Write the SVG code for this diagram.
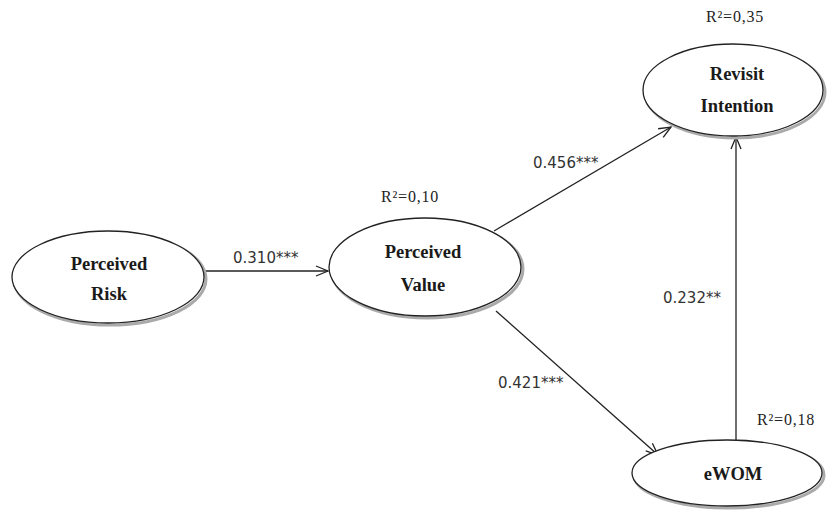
<svg xmlns="http://www.w3.org/2000/svg" width="827" height="517" viewBox="0 0 827 517">
<defs>
<marker id="arr" markerWidth="14" markerHeight="12" refX="13" refY="6" orient="auto" markerUnits="userSpaceOnUse">
<path d="M1,1 L13,6 L1,11" fill="none" stroke="#222" stroke-width="1.3"/>
</marker>
</defs>
<style>
.shadow{fill:none;stroke:#aaa;stroke-width:3}
.node{fill:#fff;stroke:#222;stroke-width:1.3}
.lbl{font-family:"Liberation Serif","Times New Roman",serif;font-weight:bold;font-size:18.5px;fill:#1a1a1a;text-anchor:middle}
.coef{font-family:"DejaVu Sans",Verdana,sans-serif;font-size:15px;fill:#333}
.r2{font-family:"Liberation Serif","Times New Roman",serif;font-size:16px;fill:#222;letter-spacing:0.8px}
.edge{fill:none;stroke:#222;stroke-width:1.3}
</style>
<rect width="827" height="517" fill="#fff"/>
<g id="connectors">
<line class="edge" x1="206" y1="271" x2="328" y2="271" marker-end="url(#arr)"/>
<line class="edge" x1="494" y1="231" x2="671" y2="127" marker-end="url(#arr)"/>
<line class="edge" x1="496" y1="311" x2="658" y2="455" marker-end="url(#arr)"/>
<line class="edge" x1="736" y1="441" x2="736" y2="137" marker-end="url(#arr)"/>
</g>
<g id="perceived-risk">
<ellipse class="shadow" cx="110" cy="279" rx="96" ry="46"/>
<ellipse class="node" cx="108" cy="277" rx="96" ry="46"/>
<text class="lbl" x="109" y="270">Perceived</text>
<text class="lbl" x="109" y="300">Risk</text>
</g>
<g id="perceived-value">
<ellipse class="shadow" cx="427" cy="269" rx="96" ry="49"/>
<ellipse class="node" cx="425" cy="267" rx="96" ry="49"/>
<text class="lbl" x="423" y="258">Perceived</text>
<text class="lbl" x="423" y="291">Value</text>
<text class="r2" x="381" y="202">R²=0,10</text>
</g>
<g id="revisit-intention">
<ellipse class="shadow" cx="735" cy="92" rx="90" ry="46"/>
<ellipse class="node" cx="733" cy="90" rx="90" ry="46"/>
<text class="lbl" x="737" y="80">Revisit</text>
<text class="lbl" x="737" y="112">Intention</text>
<text class="r2" x="706" y="22">R²=0,35</text>
</g>
<g id="ewom">
<ellipse class="shadow" cx="729" cy="475" rx="95" ry="33"/>
<ellipse class="node" cx="727" cy="473" rx="95" ry="33"/>
<text class="lbl" x="733" y="480">eWOM</text>
<text class="r2" x="757" y="425">R²=0,18</text>
</g>
<g id="labels">
<text class="coef" x="233" y="263">0.310***</text>
<text class="coef" x="533" y="168">0.456***</text>
<text class="coef" x="498" y="388">0.421***</text>
<text class="coef" x="663" y="303">0.232**</text>
</g>
</svg>
